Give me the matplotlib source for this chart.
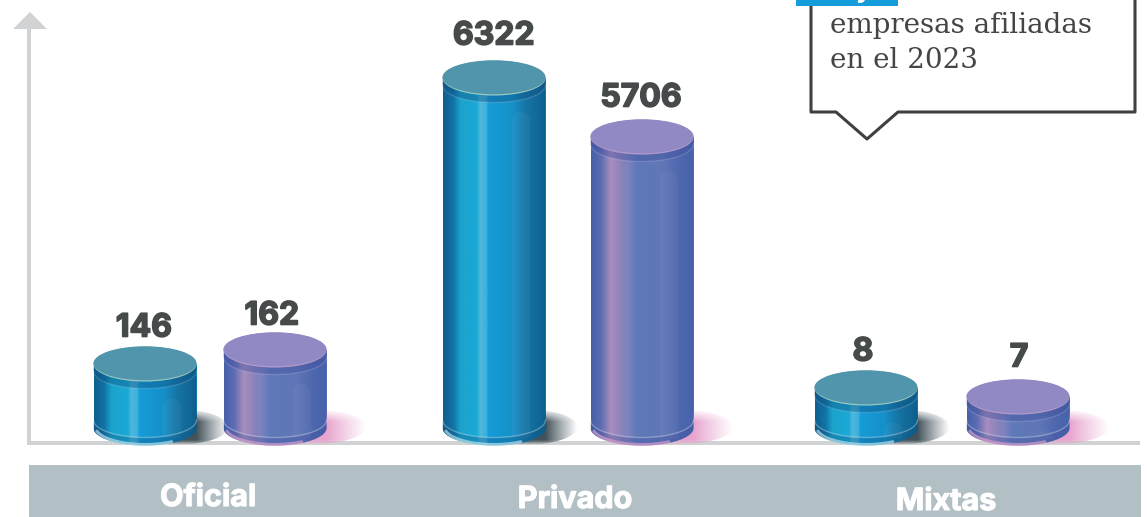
import matplotlib
matplotlib.use('Agg')
import matplotlib.pyplot as plt
import matplotlib.patheffects as pe
import numpy as np
from matplotlib.colors import LinearSegmentedColormap, to_rgb
from matplotlib.patches import Ellipse, Polygon, Rectangle

# Datos
categorias = ['Oficial', 'Privado', 'Mixtas']
serie_azul = [146, 6322, 8]
serie_morada = [162, 5706, 7]

W, H = 1147, 517
BASE_Y = 428   # centro de la elipse inferior, en pixeles
ANCHO = 103
RY = 17.5

# El original no esta a escala: tramos valor -> altura sacados de la imagen
knots_v = [-100, 0, 7, 8, 146, 162, 5706, 6322, 8000]
knots_h = [-100, 0, 31, 40, 64, 78, 291, 350, 500]

def adelante(v):
    return np.interp(v, knots_v, knots_h)

def atras(h):
    return np.interp(h, knots_h, knots_v)

# Posiciones de los cilindros (centro en x) y ajuste de las etiquetas
x_azul = [145, 494, 866]
x_morada = [275, 642, 1018]
dx_azul = [-1, 0, -3]
dx_morada = [-3, -1, 1]
dy_azul = [39, 45, 39]
dy_morada = [37, 42, 42]
x_cat = [208, 575, 946]
y_cat = [498, 500, 502]

GRIS_EJE = '#d0d2d3'
GRIS_BANDA = '#b2bfc4'
TEXTO = '#474a4b'
FUENTE = 'Inter'

azul_cmap = LinearSegmentedColormap.from_list('azul', [
    (0, '#0e5f8e'), (.10, '#1273a6'), (.17, '#1ba3cc'), (.33, '#1ba9d6'),
    (.36, '#4db8dc'), (.42, '#3fb0dc'), (.44, '#179cd8'), (.68, '#1590c8'),
    (.80, '#1776a6'), (1, '#0d5f8d')])
morada_cmap = LinearSegmentedColormap.from_list('morada', [
    (0, '#4660aa'), (.10, '#5f6db2'), (.19, '#a78dbf'), (.30, '#8a82bb'),
    (.36, '#7d83bf'), (.44, '#5f79b9'), (.70, '#5f76b7'), (.85, '#4f68ae'),
    (1, '#4762ab')])

fig = plt.figure(figsize=(W / 100, H / 100), dpi=100)

# Ejes con los datos (escala por tramos)
ax = fig.add_axes([0, 0, 1, 1])
ax.set_xlim(0, W)
ax.set_yscale('function', functions=(adelante, atras))
ax.set_ylim(atras(BASE_Y - H), atras(BASE_Y))
ax.axis('off')

# Ejes en pixeles para la decoracion
px = fig.add_axes([0, 0, 1, 1], zorder=2)
px.patch.set_alpha(0)
px.axis('off')


def fijar_px():
    px.set_xlim(0, W)
    px.set_ylim(H, 0)


fijar_px()


def y_pixel(x, v):
    return px.transData.inverted().transform(ax.transData.transform((x, v)))[1]


def sombra(cx, color, largo):
    # sombra al lado derecho, se desvanece hacia afuera y hacia arriba
    r, g, b = to_rgb(color)
    izq = cx + 15
    der = cx + ANCHO / 2 + largo
    borde = cx + ANCHO / 2
    xs = np.linspace(izq, der, 128)
    ys = np.linspace(0, 1, 40)
    fade_x = np.clip((der - xs) / (der - borde), 0, 1) ** 1.1
    fade_y = np.clip(np.minimum(ys / 0.35, (1 - ys) / 0.12), 0, 1)
    img = np.zeros((40, 128, 4))
    img[..., 0], img[..., 1], img[..., 2] = r, g, b
    img[..., 3] = 0.95 * np.outer(fade_y, fade_x)
    im = px.imshow(img, extent=(izq, der, BASE_Y + 17, BASE_Y - 19),
                   aspect='auto', zorder=1, interpolation='bilinear')
    el = Ellipse((cx + 30, BASE_Y - 1), 2 * (der - cx - 30), 36, transform=px.transData,
                 facecolor='none', edgecolor='none')
    px.add_patch(el)
    im.set_clip_path(el)


def cilindro(barra, cmap, c_tapa, c_borde, c_banda, c_sombra, largo, brillo):
    cx = barra.get_x() + barra.get_width() / 2
    y_top = y_pixel(cx, barra.get_height())
    rx = ANCHO / 2
    izq, der = cx - rx, cx + rx
    t = np.linspace(np.pi, 0, 60)

    sombra(cx, c_sombra, largo)

    # cuerpo con degradado
    contorno = np.vstack([[[izq, y_top]],
                          np.column_stack([cx + rx * np.cos(t), BASE_Y + RY * np.sin(t)]),
                          [[der, y_top]]])
    cuerpo = Polygon(contorno, closed=True, facecolor='none', edgecolor='none', transform=px.transData)
    px.add_patch(cuerpo)
    grad = np.linspace(0, 1, 256).reshape(1, -1)
    im = px.imshow(grad, cmap=cmap, extent=(izq, der, BASE_Y + RY + 1, y_top), aspect='auto', zorder=2)
    im.set_clip_path(cuerpo)

    # reflejo tenue en forma de arco
    y_arco = y_top + 34
    if y_arco < BASE_Y + 4:
        t_a = np.linspace(np.pi, 0, 30)
        arco = np.vstack([np.column_stack([cx + 27 + 9 * np.cos(t_a), y_arco + 9 - 9 * np.sin(t_a)]),
                          [[cx + 36, BASE_Y + 10], [cx + 18, BASE_Y + 10]]])
        px.add_patch(Polygon(arco, closed=True, facecolor='white', alpha=0.04, edgecolor='none', zorder=3))

    # banda oscura bajo la tapa
    arco_a = np.column_stack([cx + rx * np.cos(t), y_top + RY * np.sin(t)])
    arco_b = np.column_stack([cx + rx * np.cos(t[::-1]), y_top + 7 + RY * np.sin(t[::-1])])
    px.add_patch(Polygon(np.vstack([arco_a, arco_b]), closed=True, facecolor=c_banda, alpha=0.4,
                         edgecolor='none', zorder=3))
    px.plot(arco_b[:, 0], arco_b[:, 1], color='white', alpha=0.15, lw=1, zorder=3)

    # banda inferior
    arco_c = np.column_stack([cx + rx * np.cos(t), BASE_Y - 8 + RY * np.sin(t)])
    arco_d = np.column_stack([cx + rx * np.cos(t[::-1]), BASE_Y + RY * np.sin(t[::-1])])
    px.add_patch(Polygon(np.vstack([arco_c, arco_d]), closed=True, facecolor=c_banda, alpha=0.3,
                         edgecolor='none', zorder=3))
    px.plot(arco_c[:, 0], arco_c[:, 1], color='white', alpha=0.3, lw=1, zorder=3)

    # brillo en el borde de abajo
    t2 = np.linspace(2.9, 1.0, 40)
    px.plot(cx + (rx - 2) * np.cos(t2), BASE_Y - 1 + RY * np.sin(t2), color=brillo, lw=2.2,
            alpha=0.6, zorder=3, solid_capstyle='round')

    # tapa: primero el borde claro y encima el color
    px.add_patch(Ellipse((cx, y_top), ANCHO, 2 * RY, facecolor=c_borde, edgecolor='none', zorder=4))
    px.add_patch(Ellipse((cx, y_top - 0.7), ANCHO, 2 * RY - 1, facecolor=c_tapa, edgecolor='none', zorder=4))
    return y_top


def grueso(color, ancho):
    # Inter queda fina en negrita, se engrosa con un trazo
    return [pe.withStroke(linewidth=ancho, foreground=color)]


# Ejes del grafico
px.add_patch(Rectangle((27, 24), 4, 421, facecolor=GRIS_EJE, edgecolor='none', zorder=0))
px.add_patch(Rectangle((27, 441), 1113, 4, facecolor=GRIS_EJE, edgecolor='none', zorder=0))
px.add_patch(Polygon([(13, 29), (30, 12), (47, 29)], closed=True, facecolor=GRIS_EJE, edgecolor='none', zorder=0))

# Barras
barras_azul = ax.bar(x_azul, serie_azul, width=ANCHO, color='#1590c8', linewidth=0)
barras_morada = ax.bar(x_morada, serie_morada, width=ANCHO, color='#5f76b7', linewidth=0)

for barra, valor, dx, dy in zip(barras_azul, serie_azul, dx_azul, dy_azul):
    y = cilindro(barra, azul_cmap, '#5095ab', '#9cc9bd', '#0c4f80', '#3a4a52', 32, '#d5f0f5')
    px.text(barra.get_x() + ANCHO / 2 + dx, y - dy + 3, str(valor), ha='center', va='center',
            fontsize=23, fontweight='bold', family=FUENTE, color=TEXTO, zorder=6,
            path_effects=grueso(TEXTO, 1.2))

for barra, valor, dx, dy in zip(barras_morada, serie_morada, dx_morada, dy_morada):
    y = cilindro(barra, morada_cmap, '#9089c3', '#b79ac8', '#3f4f9c', '#e6a0cc', 40, '#e6a8d2')
    px.text(barra.get_x() + ANCHO / 2 + dx, y - dy + 3, str(valor), ha='center', va='center',
            fontsize=23, fontweight='bold', family=FUENTE, color=TEXTO, zorder=6,
            path_effects=grueso(TEXTO, 1.2))

# Banda de categorias
px.add_patch(Rectangle((29, 465), 1112, 52, facecolor=GRIS_BANDA, edgecolor='none', zorder=1))
for nombre, xc, yc in zip(categorias, x_cat, y_cat):
    px.text(xc, yc, nombre, ha='center', va='center', fontsize=22, fontweight='bold',
            family=FUENTE, color='white', zorder=6, path_effects=grueso('white', 0.8))

# Globo de texto arriba a la derecha
globo = [(811, -5), (811, 112), (836, 112), (867, 139), (898, 112), (1135, 112), (1135, -5)]
px.add_patch(Polygon(globo, closed=False, facecolor='white', edgecolor='#404040', linewidth=2.2,
                     joinstyle='round', zorder=5))
px.add_patch(Rectangle((796, -2), 102, 8, facecolor='#159ddb', edgecolor='none', zorder=6))
px.text(864, -3, 'y', ha='center', va='baseline', fontsize=19, fontweight='bold',
        family=FUENTE, color='white', zorder=7)
px.text(830, 33, 'empresas afiliadas', ha='left', va='baseline', fontsize=20,
        family='DejaVu Serif', color='#454545', zorder=7)
px.text(830, 68, 'en el 2023', ha='left', va='baseline', fontsize=20,
        family='DejaVu Serif', color='#454545', zorder=7)

fijar_px()
fig.savefig('out.png', dpi=100)
